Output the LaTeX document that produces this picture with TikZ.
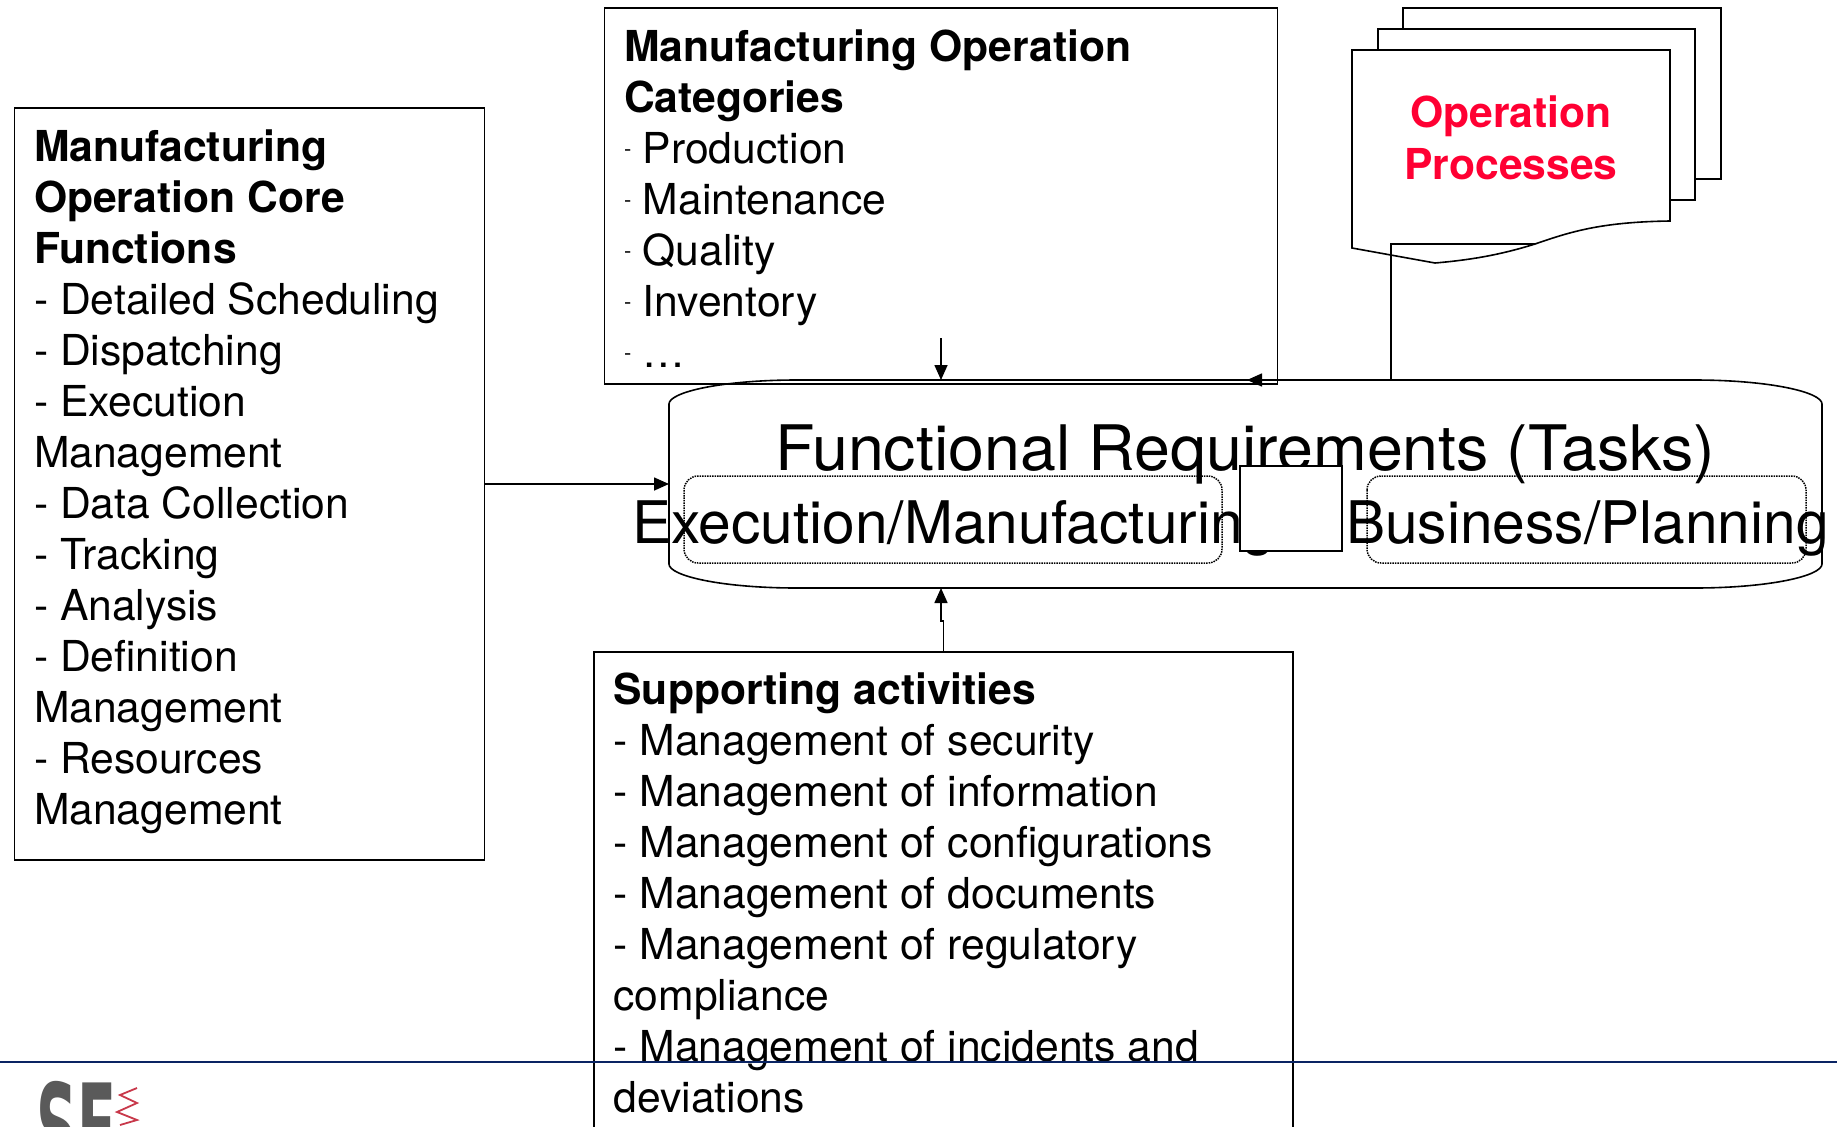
\documentclass[tikz,border=0pt]{standalone}
\usepackage{fontspec}
\setmainfont{TeX Gyre Heros}
\newfontfamily\logofont{DejaVu Sans}
\usetikzlibrary{arrows.meta}
\definecolor{navyline}{HTML}{0A2463}
\definecolor{procred}{HTML}{FF0033}
\definecolor{logogrey}{HTML}{5A5A5A}
\definecolor{logored}{HTML}{C8384A}
\newcommand{\smalldash}{\makebox[18.8bp][l]{\raisebox{7bp}{\fontsize{22}{22}\selectfont -}}}
\tikzset{
  x=1bp,y=-1bp,
  every node/.style={inner sep=0pt,outer sep=0pt},
  boxline/.style={draw=black,line width=1.6bp},
  framebox/.style={boxline,anchor=north west,rectangle},
  bodytext/.style={anchor=north west,align=left,font=\fontsize{42.8}{51.2}\selectfont},
  conn/.style={draw=black,line width=1.6bp,-{Triangle[length=15bp,width=13bp]}},
  dotbox/.style={draw=black,line width=1.5bp,densely dotted},
  bigtext/.style={anchor=base west,font=\fontsize{58.9}{70}\selectfont},
}
\begin{document}
\begin{tikzpicture}
\useasboundingbox (0,0) rectangle (1837,1126);
\clip (0,0) rectangle (1837,1126);
% boxes
\node[framebox,minimum width=470bp,minimum height=752bp] (core) at (14.5,108) {};
\node[framebox,minimum width=673bp,minimum height=376bp] (cats) at (604.5,8) {};
\node[framebox,minimum width=699bp,minimum height=560bp] (support) at (594,652) {};
\node[bodytext] (coretext) at (34,129.3) {\textbf{Manufacturing}\\\textbf{Operation Core}\\\textbf{Functions}\\- Detailed Scheduling\\- Dispatching\\- Execution\\Management\\- Data Collection\\- Tracking\\- Analysis\\- Definition\\Management\\- Resources\\Management};
\node[bodytext] (catstext) at (624,29.8) {\textbf{Manufacturing Operation}\\\textbf{Categories}\\\smalldash Production\\\smalldash Maintenance\\\smalldash Quality\\\smalldash Inventory\\\smalldash \dots};
\node[bodytext] (supporttext) at (613.5,673) {\textbf{Supporting activities}\\- Management of security\\- Management of information\\- Management of configurations\\- Management of documents\\- Management of regulatory\\compliance\\- Management of incidents and\\deviations};
% document stack
\draw[boxline,fill=white] (1403,8) -- (1721,8) -- (1721,179) -- (1600,179) -- (1403,179) -- cycle;
\draw[boxline,fill=white] (1378,29) -- (1695,29) -- (1695,200) -- (1378,200) -- cycle;
\draw[boxline,fill=white] (1352,50) -- (1670,50) -- (1670,221) .. controls (1600,222) and (1570,232) .. (1535,244) .. controls (1500,255) and (1470,260) .. (1435,263) -- (1352,248) -- cycle;
\node[anchor=base,align=center,font=\fontsize{42.8}{51.2}\selectfont\bfseries,text=procred] (proc) at (1511,179) {Operation\\Processes};
% drum
\node[minimum width=1153bp,minimum height=208bp] (drum) at (1245.5,484) {};
\draw[line width=1.6bp] (669,404) .. controls (669,392) and (722,380) .. (797,380) -- (1694,380) .. controls (1769,380) and (1822,392) .. (1822,404) -- (1822,564) .. controls (1822,576) and (1769,588) .. (1694,588) -- (797,588) .. controls (722,588) and (669,576) .. (669,564) -- cycle;
% labels in drum
\node[bigtext,font=\fontsize{63}{70}\selectfont,xscale=1.028,anchor=base west] (func) at (775,470) {Functional Requirements (Tasks)};
\draw[dotbox,rounded corners=14bp] (684,476) rectangle (1222,563);
\draw[dotbox,rounded corners=14bp] (1367,476) rectangle (1806,563);
\node[bigtext] (exec) at (632,543) {Execution/Manufacturing};
\node[bigtext] (biz) at (1346,543) {Business/Planning};
\node[draw=black,line width=1.2bp,fill=white,minimum width=102bp,minimum height=85bp] (gap) at (1291,508.5) {};
% connectors
\draw[conn] (core.east) -- (drum.west);
\coordinate (catstart) at (941,338);
\draw[conn] (catstart) -- (catstart |- drum.north);
\coordinate (docout) at (1535,244);
\coordinate (docturn) at (1391,244);
\coordinate (arrowtip) at (1247,380);
\draw[conn] (docout) -- (docturn) -- (docturn |- drum.north) -- (arrowtip);
\coordinate (jog) at (941,621);
\draw[conn] (support.north) -- (support.north |- jog) -- (jog) -- (jog |- drum.south);
% footer rule
\coordinate (ruleL) at (0,1062);
\coordinate (ruleR) at (1837,1062);
\draw[navyline,line width=1.4bp] (ruleL) -- (ruleR);
% logo, cut off by the page
\node[anchor=base west,text=logogrey,font=\logofont\fontsize{122}{122}\selectfont\bfseries,xscale=0.47] (logo) at (36,1171) {SE};
\draw[logored,line width=1.8bp] (137,1088) -- (120,1095) -- (137,1103) -- (117,1112) -- (137,1120) -- (120,1125);
\end{tikzpicture}
\end{document}
